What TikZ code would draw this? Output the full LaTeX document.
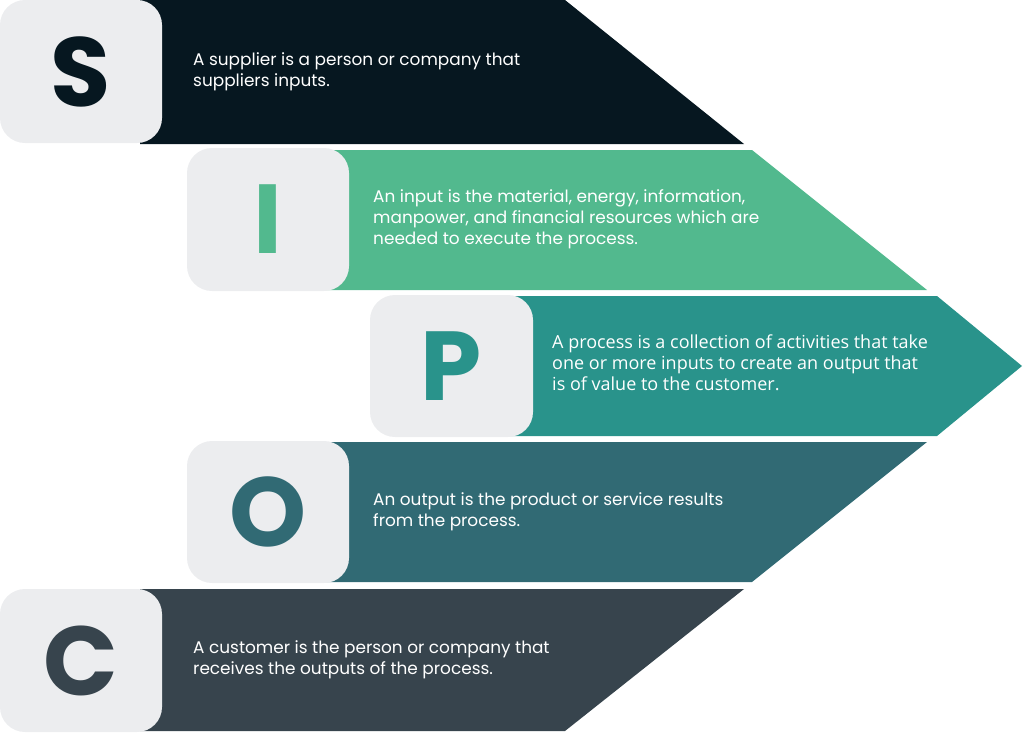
\documentclass[tikz,border=0pt]{standalone}
\usepackage{fontspec}
\setmainfont{Poppins}
\newfontfamily\pfont{Open Sans}
\definecolor{cS}{HTML}{061720}
\definecolor{cI}{HTML}{52B98E}
\definecolor{cP}{HTML}{29938B}
\definecolor{cO}{HTML}{316A74}
\definecolor{cC}{HTML}{37444D}
\definecolor{boxgray}{HTML}{ECEDEF}
\begin{document}
\begin{tikzpicture}[x=1pt,y=-1pt,
  letterbox/.style={fill=boxgray,rounded corners=25pt,inner sep=0pt,outer sep=0pt,
     minimum width=162pt,minimum height=143pt,font=\fontsize{98}{98}\selectfont\bfseries},
  desc/.style={text=white,anchor=west,align=left,inner sep=0pt,
     font=\fontsize{16.9}{21}\selectfont}]
\useasboundingbox (0,0) rectangle (1024,732);
% bands
\fill[cS] (140,0) -- (565,0) -- (744,144) -- (140,144) -- cycle;
\fill[cI] (320,150) -- (752,150) -- (927,290) -- (320,290) -- cycle;
\fill[cP] (500,296) -- (937,296) -- (1022,366) -- (937,436) -- (500,436) -- cycle;
\fill[cO] (320,442) -- (927,442) -- (752,582) -- (320,582) -- cycle;
\fill[cC] (140,589) -- (744,589) -- (565,731) -- (140,731) -- cycle;
% letter boxes
\node[letterbox,text=cS] (bS) at (81,71.5) {S};
\node[letterbox,text=cI] (bI) at (268,219.5) {I};
\node[letterbox,text=cP,minimum width=163pt,minimum height=142pt] (bP) at (451.5,366) {P};
\node[letterbox,text=cO,minimum height=142pt] (bO) at (268,512) {O};
\node[letterbox,text=cC] (bC) at (81,660.5) {C};
% descriptions
\node[desc] (tS) at (193,71.5) {A supplier is a person or company that\\suppliers inputs.};
\node[desc] (tI) at (373,219) {An input is the material, energy, information,\\manpower, and financial resources which are\\needed to execute the process.};
\node[desc,font=\pfont\fontsize{18}{21}\selectfont] (tP) at (552,363) {A process is a collection of activities that take\\one or more inputs to create an output that\\is of value to the customer.};
\node[desc] (tO) at (373,511.5) {An output is the product or service results\\from the process.};
\node[desc] (tC) at (193,659.5) {A customer is the person or company that\\receives the outputs of the process.};
\end{tikzpicture}
\end{document}
